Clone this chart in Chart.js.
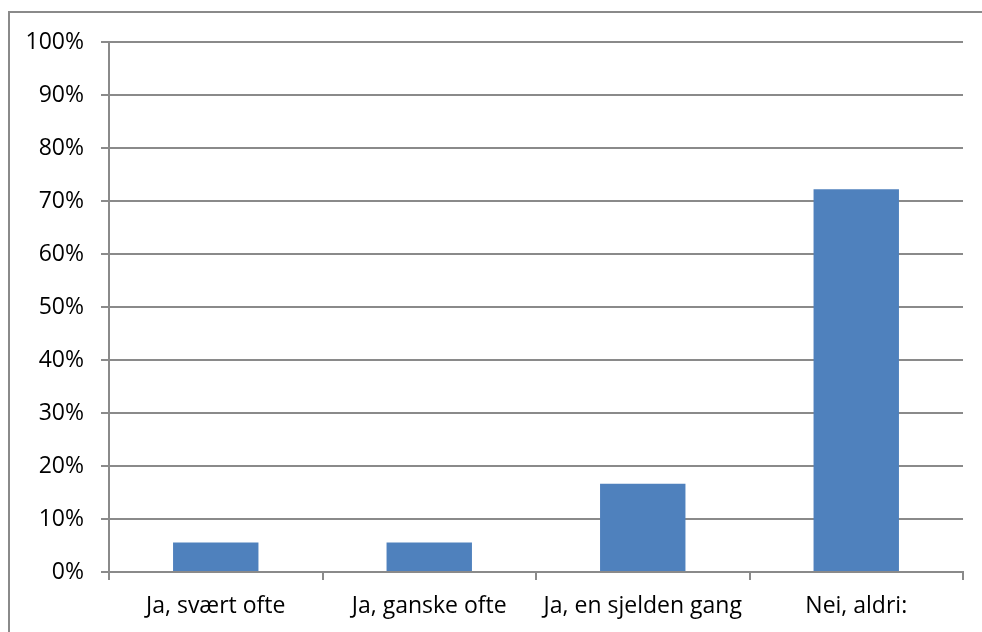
<!DOCTYPE html>
<html>
<head>
<meta charset="utf-8">
<script src="https://cdn.jsdelivr.net/npm/chart.js@4/dist/chart.umd.min.js"></script>
<style>
  html, body { margin: 0; padding: 0; background: #fff; overflow: hidden; }
  #wrap { position: relative; width: 982px; height: 632px; }
  #frame {
    position: absolute; left: 8px; top: 11px; width: 1000px; height: 700px;
    border-top: 2px solid #8a8a8a; border-left: 2px solid #8a8a8a;
  }
  canvas { position: absolute; left: 0; top: 0; }
</style>
</head>
<body>
<div id="wrap">
  <div id="frame"></div>
  <canvas id="chartCanvas" width="982" height="632"></canvas>
</div>
<script>
// answers and their share
const categories = ["Ja, svært ofte", "Ja, ganske ofte", "Ja, en sjelden gang", "Nei, aldri:"];
const shares = [5.56, 5.56, 16.67, 72.22];

const gridColor = "#8a8a8a";
const fontFamily = "'Open Sans', 'Liberation Sans', sans-serif";

const ctx = document.getElementById("chartCanvas").getContext("2d");

new Chart(ctx, {
  type: "bar",
  data: {
    labels: categories,
    datasets: [
      {
        data: shares,
        backgroundColor: "#4f81bd",
        borderWidth: 0,
        barPercentage: 0.4,
        categoryPercentage: 1,
      },
    ],
  },
  options: {
    responsive: false,
    animation: false,
    layout: { padding: { top: 42, right: 19, bottom: 0, left: 0 } },
    plugins: {
      legend: { display: false },
      tooltip: { enabled: false },
    },
    scales: {
      y: {
        min: 0,
        max: 100,
        afterFit: s => { s.width = 109; },
        ticks: {
          stepSize: 10,
          padding: 17,
          color: "#000",
          font: { family: fontFamily, size: 23 },
          callback: v => v + "%",
        },
        grid: { color: gridColor, lineWidth: 2, tickLength: 8, tickColor: gridColor },
        border: { color: gridColor, width: 2 },
      },
      x: {
        afterFit: s => { s.height = 60; },
        ticks: {
          padding: 13,
          color: "#000",
          maxRotation: 0,
          font: { family: fontFamily, size: 23 },
        },
        grid: {
          drawOnChartArea: false,
          offset: true,
          tickLength: 8,
          lineWidth: 2,
          tickColor: gridColor,
        },
        border: { color: gridColor, width: 2 },
      },
    },
  },
});
</script>
</body>
</html>
